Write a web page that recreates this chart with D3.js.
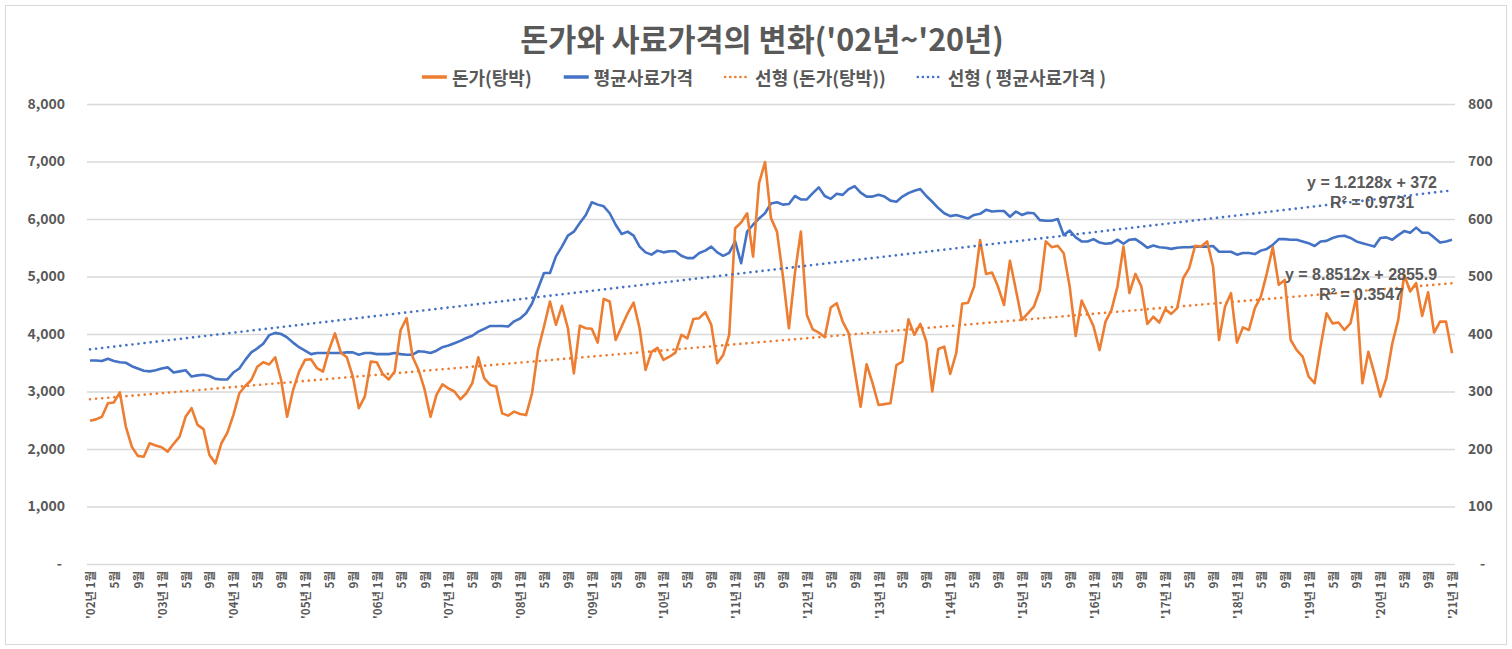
<!DOCTYPE html>
<html><head><meta charset="utf-8">
<script src="https://cdn.jsdelivr.net/npm/d3@7"></script>
<style>body{margin:0;background:#fff}text{font-family:"Noto Sans CJK KR","Noto Sans",sans-serif;}</style>
</head><body><svg id="c" width="1512" height="649"></svg>
<script>
// ---------------- data ----------------
const startYear = 2002;
const titleText = "돈가와 사료가격의 변화('02년~'20년)";
const legendLabels = ["돈가(탕박)", "평균사료가격", "선형 (돈가(탕박))", "선형 ( 평균사료가격 )"];
const leftTicks = [0, 1000, 2000, 3000, 4000, 5000, 6000, 7000, 8000];
const rightTicks = [0, 100, 200, 300, 400, 500, 600, 700, 800];
// 돈가(탕박), monthly from Jan 2002 to Jan 2021 (left axis)
const porkPrice = [
2490,2515,2560,2795,2810,2985,2390,2040,1880,1865,2100,2060,
2030,1955,2090,2215,2560,2710,2420,2345,1895,1750,2100,2285,
2590,2970,3095,3200,3430,3510,3470,3595,3200,2560,3025,3345,
3550,3560,3405,3345,3720,4010,3675,3595,3260,2710,2910,3520,
3510,3305,3210,3345,4070,4275,3605,3375,3040,2560,2940,3125,
3055,3000,2865,2970,3145,3595,3230,3115,3085,2620,2580,2650,
2610,2590,2970,3720,4130,4565,4160,4490,4100,3315,4145,4100,
4090,3850,4610,4565,3895,4130,4360,4545,4100,3375,3690,3760,
3550,3605,3675,3985,3925,4260,4275,4380,4160,3490,3635,3985,
5840,5940,6100,5345,6625,6990,6015,5780,5000,4100,5055,5780,
4330,4080,4025,3945,4460,4535,4215,4015,3375,2735,3475,3145,
2765,2780,2795,3460,3520,4255,3985,4175,3870,3000,3740,3780,
3305,3665,4525,4545,4825,5635,5045,5070,4825,4505,5275,4765,
4245,4360,4475,4765,5610,5510,5535,5405,4825,3965,4580,4360,
4130,3720,4215,4420,4825,5520,4710,5045,4825,4175,4300,4200,
4430,4350,4450,4970,5145,5535,5520,5610,5175,3895,4475,4710,
3850,4115,4070,4450,4650,5055,5510,4855,4940,3895,3720,3605,
3260,3145,3780,4360,4185,4200,4070,4185,4650,3145,3690,3315,
2910,3230,3835,4245,5030,4740,4885,4315,4725,4025,4215,4215,
3665];
// 평균사료가격 (right axis)
const feedPrice = [
354,354,353,357,353,351,350,344,340,336,335,337,
340,342,333,335,337,326,328,329,327,322,321,321,
333,340,355,368,375,383,398,402,400,394,385,377,
371,365,367,367,367,367,367,368,368,364,367,367,
365,365,365,367,365,364,364,370,369,367,371,377,
380,384,388,393,397,404,409,414,414,414,413,422,
427,436,453,479,506,506,535,552,571,578,593,607,
629,625,622,610,590,574,578,571,552,542,538,545,
542,544,544,536,532,532,541,545,552,542,536,541,
561,523,578,590,601,610,627,629,625,626,640,634,
634,645,655,640,635,644,642,652,657,646,639,639,
642,639,632,630,639,645,649,652,640,630,619,610,
605,607,604,601,607,609,616,613,614,614,604,613,
607,611,610,598,597,597,600,572,580,568,561,561,
565,559,557,558,564,557,564,565,558,550,554,551,
550,548,550,551,551,552,552,552,553,543,543,543,
538,541,541,539,545,548,555,565,565,564,564,561,
558,553,561,562,567,570,571,567,561,558,555,552,
567,568,564,572,579,576,585,576,576,568,559,561,
564];
// linear trend lines shown on chart: [slope, intercept, R²]
const porkTrend = [8.8512, 2855.9, 0.3547];
const feedTrend = [1.2128, 372, 0.9731];

// ---------------- layout ----------------
const W = 1512, H = 649;
const plot = {left: 87, right: 1455, top: 104, bottom: 564};
const colPork = "#ED7D31", colFeed = "#4472C4", txt = "#595959", grid = "#d9d9d9";

const svg = d3.select("#c");
svg.append("rect").attr("x",0).attr("y",0).attr("width",W).attr("height",H).attr("fill","#fff");
svg.append("rect").attr("x",5.5).attr("y",5.5).attr("width",W-11).attr("height",H-10)
  .attr("fill","none").attr("stroke","#d9d9d9").attr("stroke-width",1);

const idx = d3.range(porkPrice.length);
const x = d3.scalePoint().domain(idx).range([plot.left, plot.right]).padding(0.5);
const yL = d3.scaleLinear().domain([0, 8000]).range([plot.bottom, plot.top]);
const yR = d3.scaleLinear().domain([0, 800]).range([plot.bottom, plot.top]);

const fmt = d => d === 0 ? "-" : d3.format(",")(d);

// gridlines + left axis
const gAxisL = svg.append("g").attr("transform", `translate(${plot.left},0)`)
  .call(d3.axisLeft(yL).tickValues(leftTicks).tickSize(-(plot.right - plot.left)).tickFormat(fmt).tickPadding(22));
gAxisL.select(".domain").remove();
gAxisL.selectAll(".tick line").attr("stroke", grid).attr("stroke-width", 1.3);
gAxisL.selectAll(".tick text").attr("fill", txt).style("font-size","14px").style("font-weight","bold")
  .attr("dx", d => d === 0 ? -3 : 0);

const gAxisR = svg.append("g").attr("transform", `translate(${plot.right},0)`)
  .call(d3.axisRight(yR).tickValues(rightTicks).tickSize(0).tickFormat(fmt).tickPadding(13));
gAxisR.select(".domain").remove();
gAxisR.selectAll(".tick text").attr("fill", txt).style("font-size","14px").style("font-weight","bold")
  .attr("dx", d => d === 0 ? 12 : 0);

// x labels
const labelIdx = idx.filter(i => i % 4 === 0);
svg.append("g").selectAll("text").data(labelIdx).join("text")
  .attr("transform", i => `translate(${x(i)},${plot.bottom + 7}) rotate(-90)`)
  .attr("text-anchor", "end").attr("dominant-baseline", "central")
  .attr("fill", txt).style("font-size", "11.5px").style("font-weight","bold")
  .text(i => {
    const m = i % 12 + 1, yy = String((startYear + Math.floor(i / 12)) % 100).padStart(2, "0");
    return m === 1 ? `'${yy}년 ${m}월` : `${m}월`;
  });

// trend lines
const n = porkPrice.length;
const dotted = {"stroke-width": 2.6, "stroke-dasharray": "0.1,6", "stroke-linecap": "round"};
function trendLine(coef, yScale, color) {
  const pts = [0, n - 1].map(i => [x(i), yScale(coef[0] * (i + 1) + coef[1])]);
  const p = svg.append("path").attr("d", d3.line()(pts)).attr("fill", "none").attr("stroke", color);
  Object.entries(dotted).forEach(([k, v]) => p.attr(k, v));
  return pts[1];
}

// series lines
svg.append("path").datum(feedPrice).attr("fill","none").attr("stroke",colFeed).attr("stroke-width",2.6)
  .attr("stroke-linejoin","round").attr("d", d3.line().x((d,i)=>x(i)).y(d=>yR(d)));
svg.append("path").datum(porkPrice).attr("fill","none").attr("stroke",colPork).attr("stroke-width",2.6)
  .attr("stroke-linejoin","round").attr("d", d3.line().x((d,i)=>x(i)).y(d=>yL(d)));

const endPork = trendLine(porkTrend, yL, colPork);
const endFeed = trendLine(feedTrend, yR, colFeed);

// equation labels
function eqLabel(coef, end, cx, dy) {
  const g = svg.append("g").attr("fill", txt).style("font-size","16px").style("font-weight","bold")
    .attr("text-anchor","middle");
  g.append("text").attr("x", cx).attr("y", end[1] + dy + 6).style("font-family","'Liberation Sans',Arial,sans-serif")
    .text(`y = ${coef[0]}x + ${coef[1]}`);
  g.append("text").attr("x", cx).attr("y", end[1] + dy + 26).style("font-family","'Liberation Sans',Arial,sans-serif")
    .text(`R² = ${coef[2]}`);
}
eqLabel(feedTrend, endFeed, endFeed[0] - 80, -8);
eqLabel(porkTrend, endPork, endPork[0] - 91, -9);

// title
svg.append("text").attr("x", 762).attr("y", 38).attr("text-anchor","middle").attr("dominant-baseline","central")
  .attr("fill", txt).style("font-size","30.5px").style("font-weight","bold").text(titleText);

// legend
const legendStyles = [
  {color: colPork, dash: null}, {color: colFeed, dash: null},
  {color: colPork, dash: true}, {color: colFeed, dash: true}
];
const lg = svg.append("g");
let cursor = 0;
const gap = 32;
legendLabels.forEach((lab, k) => {
  const g = lg.append("g");
  const ln = g.append("line").attr("x1", 0).attr("x2", 25).attr("y1", 0).attr("y2", 0)
    .attr("stroke", legendStyles[k].color).attr("stroke-width", legendStyles[k].dash ? 2.6 : 3.5);
  if (legendStyles[k].dash) { ln.attr("stroke-dasharray","0.1,5").attr("stroke-linecap","round"); }
  const t = g.append("text").attr("x", 30).attr("y", 0).attr("dominant-baseline","central")
    .attr("fill", txt).style("font-size","18px").style("font-weight","bold").text(lab);
  const w = 30 + t.node().getComputedTextLength();
  g.attr("transform", `translate(${cursor},77)`);
  cursor += w + gap;
});
const totalW = cursor - gap;
lg.attr("transform", `translate(${764 - totalW / 2},0)`);
</script></body></html>
